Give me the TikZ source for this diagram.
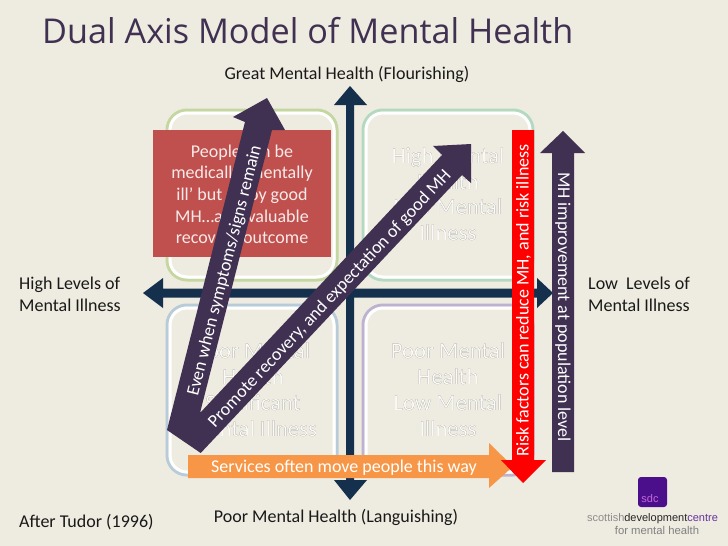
\documentclass[tikz,border=0pt]{standalone}
\usepackage{fontspec}
\usepackage[outline]{contour}
\setmainfont{Carlito}
\newfontfamily\logofont{Liberation Sans}
\newfontfamily\titlefont{Open Sans}
\contourlength{0.3pt}
\definecolor{bgc}{HTML}{EEEBE0}
\definecolor{axisc}{HTML}{15304D}
\definecolor{plumc}{HTML}{403152}
\definecolor{redbox}{HTML}{C0504D}
\definecolor{orangec}{HTML}{F79646}
\definecolor{ga}{HTML}{C4D7A0}
\definecolor{gb}{HTML}{B3D9C0}
\definecolor{gc}{HTML}{B7CBD8}
\definecolor{gd}{HTML}{BDB2D0}
\definecolor{logoc}{HTML}{4B0F8C}
\newcommand{\ghost}[1]{\contour{black!60}{\textcolor{white!75!bgc}{#1}}}
\tikzset{
  x=1pt,y=-1pt,
  lab/.style={inner sep=0pt,anchor=base,font=\fontsize{18}{21}\selectfont,text=black!90},
  labl/.style={lab,anchor=base west},
  ghosttext/.style={inner sep=0pt,anchor=base,font=\fontsize{22.7}{25}\selectfont},
  whitetext/.style={inner sep=0pt,text=white,font=\fontsize{18}{21}\selectfont},
  boxtext/.style={inner sep=0pt,anchor=base,text=white!88!redbox,font=\fontsize{18}{21}\selectfont},
  quadouter/.style={draw=#1,line width=3pt,rounded corners=20pt},
  quadinner/.style={draw=white,line width=3pt,rounded corners=17pt},
}
\begin{document}
\begin{tikzpicture}
\useasboundingbox (0,0) rectangle (728,546);
\fill[bgc] (0,0) rectangle (728,546);
\node[inner sep=0pt,anchor=base west,text=plumc,font=\titlefont\fontsize{34.2}{40}\selectfont] (title) at (42,43) {Dual Axis Model of Mental Health};
% quadrant frames
\draw[quadouter=ga] (167,110) rectangle (337,280);
\draw[quadinner] (170,113) rectangle (334,277);
\draw[quadouter=gb] (363,110) rectangle (533,280);
\draw[quadinner] (366,113) rectangle (530,277);
\draw[quadouter=gc] (167,305) rectangle (337,475);
\draw[quadinner] (170,308) rectangle (334,472);
\draw[quadouter=gd] (363,305) rectangle (533,475);
\draw[quadinner] (366,308) rectangle (530,472);
% quadrant texts
\node[ghosttext] (q1a) at (448,163) {\ghost{High Mental}};
\node[ghosttext] (q1b) at (448,189) {\ghost{Health}};
\node[ghosttext] (q1c) at (448,214) {\ghost{Low Mental}};
\node[ghosttext] (q1d) at (448,240) {\ghost{Illness}};
\node[ghosttext] (q2a) at (253,358) {\ghost{Poor Mental}};
\node[ghosttext] (q2b) at (253,384) {\ghost{Health}};
\node[ghosttext] (q2c) at (253,410) {\ghost{Significant}};
\node[ghosttext] (q2d) at (253,436) {\ghost{Mental Illness}};
\node[ghosttext] (q3a) at (448,358) {\ghost{Poor Mental}};
\node[ghosttext] (q3b) at (448,384) {\ghost{Health}};
\node[ghosttext] (q3c) at (448,410) {\ghost{Low Mental}};
\node[ghosttext] (q3d) at (448,436) {\ghost{Illness}};
% axes
\fill[axisc] (346,105) -- (334,105) -- (350,86) -- (367,105) -- (354,105) -- (354,480) -- (367,480) -- (350,500) -- (334,480) -- (346,480) -- cycle;
\fill[axisc] (163,288.5) -- (163,278) -- (143,293) -- (163,308) -- (163,297.5) -- (537,297.5) -- (537,308) -- (553,293) -- (537,278) -- (537,288.5) -- cycle;
% red box
\fill[redbox] (153,130) rectangle (331,257);
\node[boxtext] (r1) at (242,157) {People can be};
\node[boxtext] (r2) at (242,178) {medically ‘mentally};
\node[boxtext] (r3) at (242,200) {ill’ but enjoy good};
\node[boxtext] (r4) at (242,222) {MH…also valuable};
\node[boxtext] (r5) at (242,243) {recovery outcome};
% orange arrow
\fill[orangec] (188,455) -- (489,455) -- (489,443) -- (513,466.5) -- (489,488) -- (489,478) -- (188,478) -- cycle;
\node[whitetext] (svc) at (344,468) {Services often move people this way};
% plum V arrows
\fill[plumc] (167,430) -- (245,122) -- (233,117) -- (267,98) -- (285,130) -- (272,130) -- (200,413) -- (442,155) -- (433,146) -- (471,144) -- (471,183) -- (462,175) -- (200.7,453) -- cycle;
\node[whitetext,rotate=75.8] (up) at (225,271) {Even when symptoms/signs remain};
\node[whitetext,rotate=46.8] (diag) at (330,299) {Promote recovery, and expectation of good MH};
% red arrow
\fill[red] (512,130) -- (534,130) -- (534,460) -- (546,460) -- (523,483) -- (501,460) -- (512,460) -- cycle;
\node[whitetext,rotate=90] (risk) at (523.5,300.5) {Risk factors can reduce MH, and risk illness};
% plum vertical arrow
\fill[plumc] (552,472) -- (574,472) -- (574,153) -- (585,153) -- (563,131) -- (540,153) -- (552,153) -- cycle;
\node[whitetext,rotate=-90] (pop) at (563,307) {MH improvement at population level};
% labels
\node[lab] (great) at (347,79) {Great Mental Health (Flourishing)};
\node[lab] (poor) at (336,522) {Poor Mental Health (Languishing)};
\node[labl] (hi1) at (19,289) {High Levels of};
\node[labl] (hi2) at (19,311) {Mental Illness};
\node[labl] (lo1) at (588,289) {Low\ \ Levels of};
\node[labl] (lo2) at (588,311) {Mental Illness};
\node[labl] (after) at (19,527) {After Tudor (1996)};
% logo
\fill[logoc,rounded corners=3pt] (638,477) rectangle (667,507);
\node[inner sep=0pt,anchor=base,text=white!55!logoc!70!magenta,font=\logofont\fontsize{11}{12}\selectfont] (sdc) at (650,502) {sdc};
\node[inner sep=0pt,anchor=base,font=\logofont\fontsize{11}{12}\selectfont] (org) at (652.5,521) {\textcolor{black!45}{scottish}\textcolor{black!85}{development}\textcolor{logoc!85}{centre}};
\node[inner sep=0pt,anchor=base,text=black!50,font=\logofont\fontsize{11.3}{12}\selectfont] (org2) at (657,534) {for mental health};
\end{tikzpicture}
\end{document}
